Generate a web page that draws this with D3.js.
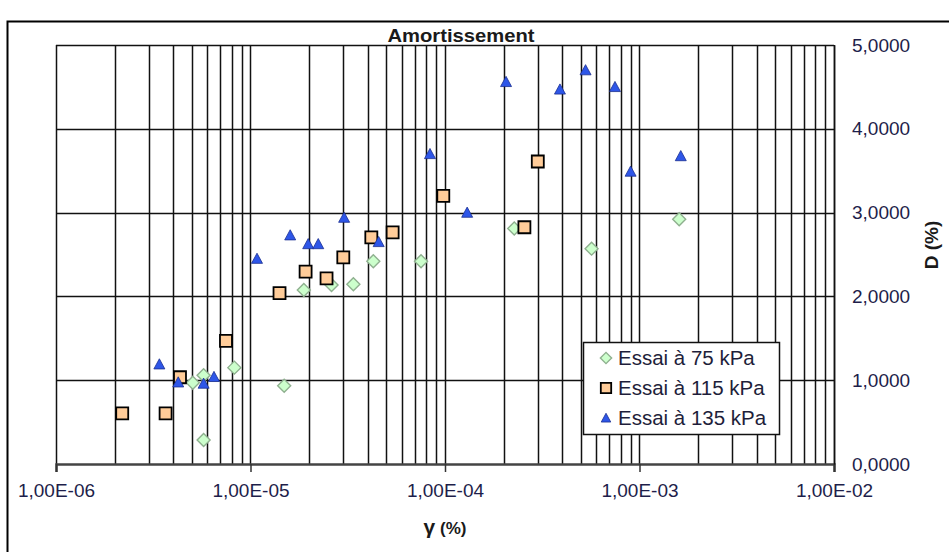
<!DOCTYPE html>
<html>
<head>
<meta charset="utf-8">
<script src="https://cdn.jsdelivr.net/npm/d3@7"></script>
<style>
  body { margin: 0; background: #fff; }
  svg { display: block; font-family: "Liberation Sans", Arial, sans-serif; }
</style>
</head>
<body>
<div id="chart"></div>
<script>
// strain gamma (%) and damping D (%)
const gamma75 = [5.74e-6, 5.05e-6, 5.74e-6, 8.26e-6, 1.49e-5, 1.88e-5, 2.61e-5, 3.38e-5, 4.28e-5, 7.53e-5, 2.27e-4, 5.67e-4, 1.6e-3];
const damp75 = [0.286, 0.97, 1.06, 1.15, 0.935, 2.076, 2.136, 2.144, 2.42, 2.42, 2.81, 2.57, 2.92];

const gamma115 = [2.19e-6, 3.66e-6, 4.34e-6, 7.48e-6, 1.41e-5, 1.92e-5, 2.46e-5, 3.0e-5, 4.18e-5, 5.38e-5, 9.8e-5, 2.56e-4, 3.0e-4];
const damp115 = [0.605, 0.605, 1.035, 1.47, 2.04, 2.295, 2.215, 2.465, 2.705, 2.765, 3.2, 2.825, 3.61];

const gamma135 = [3.4e-6, 4.25e-6, 5.74e-6, 6.49e-6, 1.08e-5, 1.6e-5, 1.98e-5, 2.23e-5, 3.03e-5, 4.56e-5, 8.37e-5, 1.3e-4, 2.06e-4, 3.9e-4, 5.28e-4, 7.48e-4, 9.0e-4, 1.63e-3];
const damp135 = [1.19, 0.975, 0.96, 1.04, 2.45, 2.73, 2.625, 2.625, 2.94, 2.65, 3.7, 3.0, 4.56, 4.47, 4.7, 4.5, 3.49, 3.675];

const seriesNames = ["Essai à 75 kPa", "Essai à 115 kPa", "Essai à 135 kPa"];
const xDecades = [1e-6, 1e-5, 1e-4, 1e-3, 1e-2];
const yTicks = [0, 1, 2, 3, 4, 5];

const width = 949,
  height = 552;

const svg = d3
  .select("#chart")
  .append("svg")
  .attr("width", width)
  .attr("height", height);

const x = d3.scaleLog().domain([1e-6, 1e-2]).range([56, 834]);
const y = d3.scaleLinear().domain([0, 5]).range([464, 45]);

// outer frame (cut by the window on the right and bottom)
svg
  .append("path")
  .attr("d", `M7.5,${height + 5}V21.5H${width + 5}`)
  .attr("fill", "none")
  .attr("stroke", "#000")
  .attr("stroke-width", 2);

// grid
const grid = svg.append("g").attr("stroke", "#111").attr("stroke-width", 1.5);
grid
  .selectAll(".vgrid")
  .data(x.ticks())
  .enter()
  .append("line")
  .attr("x1", (d) => Math.round(x(d)) + 0.5)
  .attr("x2", (d) => Math.round(x(d)) + 0.5)
  .attr("y1", y(5))
  .attr("y2", y(0));
grid
  .selectAll(".hgrid")
  .data(yTicks.slice(1))
  .enter()
  .append("line")
  .attr("x1", x(1e-6))
  .attr("x2", x(1e-2))
  .attr("y1", (d) => Math.round(y(d)) + 0.5)
  .attr("y2", (d) => Math.round(y(d)) + 0.5);

// bottom axis
const fmtSci = (d) => {
  const e = Math.round(Math.log10(d));
  return "1,00E" + (e < 0 ? "-" : "+") + String(Math.abs(e)).padStart(2, "0");
};
const xAxis = svg
  .append("g")
  .attr("transform", `translate(0,${y(0)})`)
  .call(d3.axisBottom(x).tickValues(xDecades).tickFormat(fmtSci).tickSize(8).tickPadding(12));
xAxis.select(".domain").attr("stroke", "#444").attr("stroke-width", 2.5);
xAxis.selectAll(".tick line").attr("stroke", "#333").attr("stroke-width", 1.5);
xAxis
  .selectAll("text")
  .attr("fill", "#1e1e4a")
  .style("font-size", "19px")
  .style("font-family", '"Liberation Sans", Arial, sans-serif');

// right axis
const yAxis = svg
  .append("g")
  .attr("transform", `translate(${x(1e-2)},0)`)
  .call(
    d3
      .axisRight(y)
      .tickValues(yTicks)
      .tickFormat((d) => d.toFixed(4).replace(".", ","))
      .tickSize(0)
      .tickPadding(18)
  );
yAxis.select(".domain").attr("stroke", "#111").attr("stroke-width", 1.5);
yAxis
  .selectAll("text")
  .attr("fill", "#1e1e4a")
  .style("font-size", "19px")
  .style("font-family", '"Liberation Sans", Arial, sans-serif');

// titles
svg
  .append("text")
  .attr("x", 461)
  .attr("y", 42)
  .attr("text-anchor", "middle")
  .attr("textLength", 147)
  .attr("lengthAdjust", "spacingAndGlyphs")
  .style("font-size", "18px")
  .style("font-weight", "bold")
  .attr("fill", "#1a1a1a")
  .text("Amortissement");

const xTitle = svg
  .append("text")
  .attr("x", 445)
  .attr("y", 534)
  .attr("text-anchor", "middle")
  .style("font-weight", "bold")
  .attr("fill", "#1a1a1a");
xTitle.append("tspan").style("font-size", "21px").text("γ");
xTitle.append("tspan").style("font-size", "17px").text(" (%)");

svg
  .append("text")
  .attr("transform", "translate(938,245) rotate(-90)")
  .attr("text-anchor", "middle")
  .style("font-size", "19px")
  .style("font-weight", "bold")
  .attr("fill", "#1a1a1a")
  .text("D (%)");

// markers
const diamond = {
  draw(ctx, size) {
    const r = Math.sqrt(size) / 2;
    ctx.moveTo(0, -r);
    ctx.lineTo(r, 0);
    ctx.lineTo(0, r);
    ctx.lineTo(-r, 0);
    ctx.closePath();
  },
};
const triangle = {
  draw(ctx, size) {
    const r = Math.sqrt(size) / 2;
    ctx.moveTo(0, -r);
    ctx.lineTo(r, r * 0.85);
    ctx.lineTo(-r, r * 0.85);
    ctx.closePath();
  },
};

const styles = [
  { shape: diamond, size: 169, fill: "#ccffcc", stroke: "#8fb08f", sw: 1.4 },
  { shape: d3.symbolSquare, size: 144, fill: "#ffcc99", stroke: "#000", sw: 1.8 },
  { shape: triangle, size: 121, fill: "#2e56e8", stroke: "#1a2e90", sw: 0.8 },
];

const series = [
  d3.zip(gamma75, damp75),
  d3.zip(gamma115, damp115),
  d3.zip(gamma135, damp135),
];

series.forEach((pts, i) => {
  const s = styles[i];
  svg
    .append("g")
    .selectAll("path")
    .data(pts)
    .enter()
    .append("path")
    .attr("transform", (d) => `translate(${x(d[0])},${y(d[1])})`)
    .attr("d", d3.symbol(s.shape, s.size))
    .attr("fill", s.fill)
    .attr("stroke", s.stroke)
    .attr("stroke-width", s.sw);
});

// legend
const legend = svg.append("g").attr("transform", "translate(583,342)");
legend
  .append("rect")
  .attr("x", 0.5)
  .attr("y", 0.5)
  .attr("width", 196)
  .attr("height", 92)
  .attr("fill", "#fff")
  .attr("stroke", "#111")
  .attr("stroke-width", 1.5);
seriesNames.forEach((name, i) => {
  const s = styles[i];
  const row = legend.append("g").attr("transform", `translate(0,${16 + i * 30})`);
  row
    .append("path")
    .attr("transform", "translate(23,0)")
    .attr("d", d3.symbol(s.shape, s.size * 0.75))
    .attr("fill", s.fill)
    .attr("stroke", s.stroke)
    .attr("stroke-width", s.sw);
  row
    .append("text")
    .attr("x", 35)
    .attr("y", 7)
    .style("font-size", "20.5px")
    .attr("fill", "#1e1e3a")
    .text(name);
});
</script>
</body>
</html>
